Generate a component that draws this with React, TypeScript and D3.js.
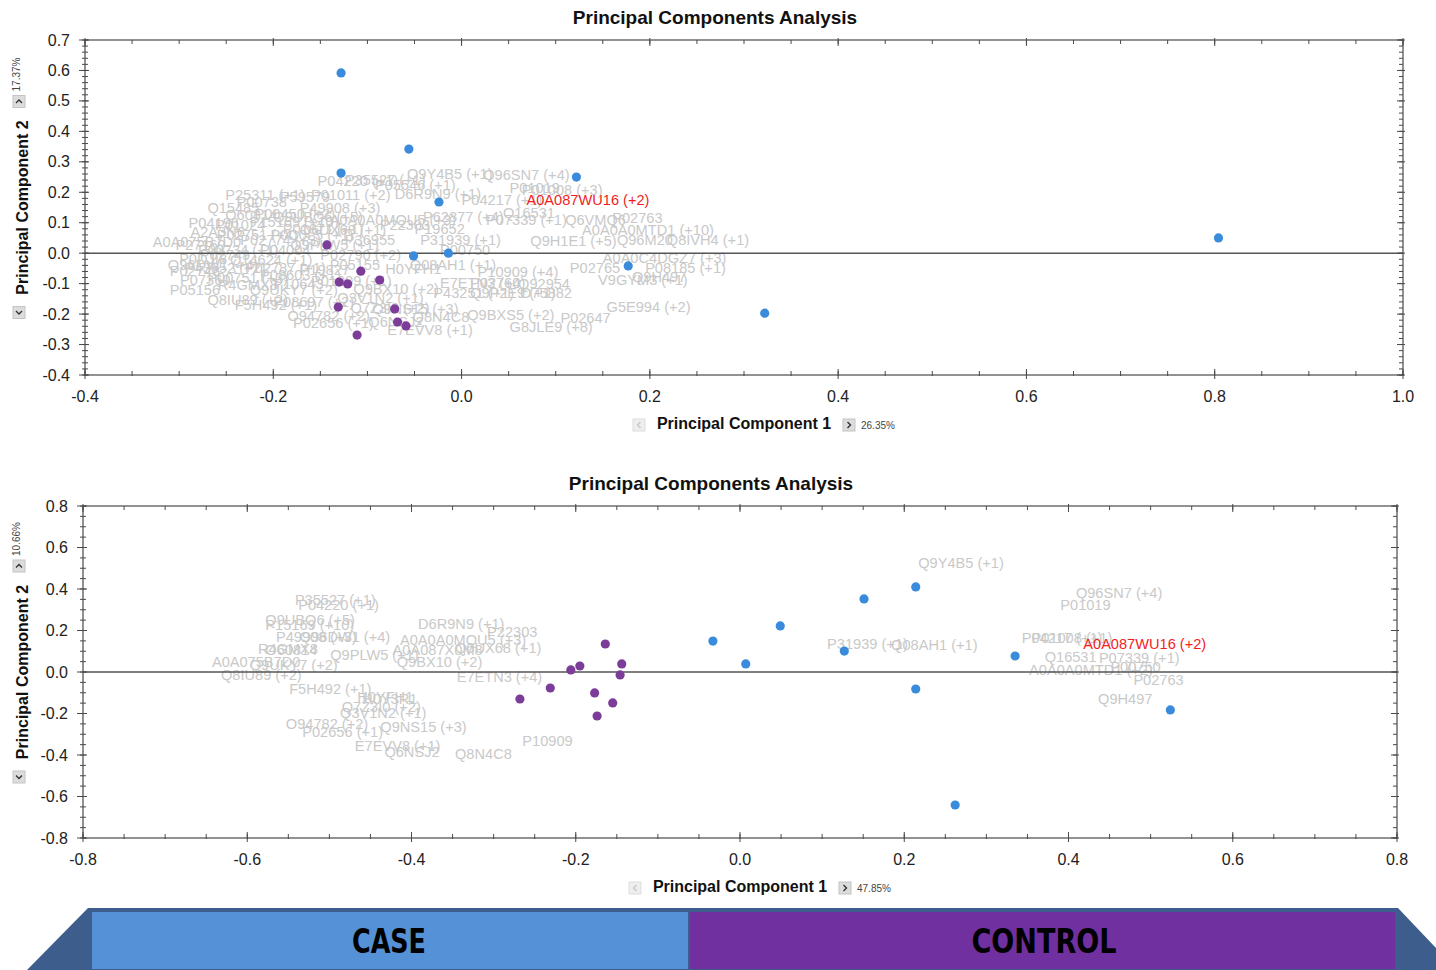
import React from 'react';
import * as d3 from 'd3';

type Pt = [number, number];
type Lbl = [string, number, number];

// ---------- top panel (PC1 26.35% / PC2 17.37%) ----------
const topCase: Pt[] = [
  [-0.128, 0.592], [-0.056, 0.342], [-0.128, 0.263], [0.122, 0.25], [-0.024, 0.168],
  [-0.051, -0.009], [-0.014, 0.0], [0.177, -0.042], [0.322, -0.197], [0.804, 0.05],
];
const topControl: Pt[] = [
  [-0.143, 0.027], [-0.107, -0.059], [-0.13, -0.095], [-0.121, -0.101], [-0.087, -0.088],
  [-0.131, -0.177], [-0.071, -0.183], [-0.068, -0.226], [-0.059, -0.239], [-0.111, -0.269],
];
const topLabels: Lbl[] = [
  ['Q9Y4B5 (+1)', -0.058, 0.26], ['Q96SN7 (+4)', 0.023, 0.257], ['P01019', 0.051, 0.214],
  ['P01008 (+3)', 0.064, 0.207], ['P04217 (+1)', 0.0, 0.175], ['P62877 (+4)', -0.041, 0.119],
  ['Q16531', 0.044, 0.132], ['P07339 (+1)', 0.026, 0.109], ['Q6VMQ6', 0.11, 0.109],
  ['P02763', 0.16, 0.115], ['A0A0A0MTD1 (+10)', 0.128, 0.076], ['Q8IVH4 (+1)', 0.218, 0.043],
  ['Q96M20', 0.165, 0.043], ['Q9H1E1 (+5)', 0.073, 0.04], ['A0A0C4DGZ7 (+3)', 0.15, -0.016],
  ['P02765', 0.115, -0.049], ['P08185 (+1)', 0.195, -0.049], ['V9GYM3 (+1)', 0.145, -0.088],
  ['Q9H497', 0.181, -0.078], ['P10909 (+4)', 0.017, -0.062], ['P02760', 0.009, -0.098],
  ['Q9P2E9 (+1)', 0.009, -0.131], ['E7ETN3 (+4)', -0.023, -0.098], ['O75882', 0.062, -0.131],
  ['G5E994 (+2)', 0.154, -0.177], ['P02647', 0.105, -0.213], ['G8JLE9 (+8)', 0.051, -0.243],
  ['Q9BXS5 (+2)', 0.006, -0.203], ['Q8N4C8', -0.052, -0.21], ['E7EVV8 (+1)', -0.079, -0.252],
  ['Q6NSJ2', -0.099, -0.226], ['Q9NS15 (+3)', -0.095, -0.183], ['Q7Z3I0 (+2)', -0.118, -0.18],
  ['Q3V1N2 (+1)', -0.132, -0.147], ['P02656 (+1)', -0.179, -0.229], ['O94782 (+2)', -0.185, -0.206],
  ['F5H492 (+1)', -0.241, -0.17], ['Q8IU89 (+2)', -0.27, -0.154], ['R4GMX8', -0.259, -0.105],
  ['Q9BX10 (+2)', -0.115, -0.118], ['H0YFH1', -0.081, -0.052], ['Q9UKY7 (+2)', -0.225, -0.121],
  ['Q96DW1 (+4)', -0.312, -0.039], ['P15169 (+10)', -0.225, 0.102], ['A0A075B7D0', -0.328, 0.037],
  ['A2A3N6', -0.288, 0.069], ['Q15485', -0.27, 0.148], ['P00738', -0.239, 0.168],
  ['P59579', -0.193, 0.184], ['P49908 (+3)', -0.172, 0.148], ['P04220 (+1)', -0.153, 0.237],
  ['P35527 (+1)', -0.124, 0.24], ['P05546 (+1)', -0.092, 0.224], ['D6R9N9 (+1)', -0.071, 0.194],
  ['A0A0A0MQU5 (+3)', -0.14, 0.109], ['Q6UX68 (+1)', -0.172, 0.076], ['P22303', -0.087, 0.092],
  ['Q9PLW5 (+1)', -0.182, 0.027], ['O60814', -0.251, 0.125], ['P31939 (+1)', -0.044, 0.043],
  ['Q08AH1 (+1)', -0.055, -0.039], ['P00750', -0.023, 0.01], ['P02749', -0.278, -0.006],
  ['P43652 (+2)', -0.294, -0.049], ['Q14624 (+1)', -0.246, -0.022], ['P04004', -0.214, 0.01],
  ['P0C0L5 (+1)', -0.203, 0.059], ['P01024', -0.262, 0.092], ['P02790 (+2)', -0.15, -0.006],
  ['P19827', -0.172, -0.055], ['P07360', -0.299, -0.088], ['P08603 (+1)', -0.214, -0.072],
  ['P05155', -0.14, -0.039], ['P02774 (+3)', -0.235, 0.043], ['P27169', -0.304, 0.027],
  ['P36955', -0.124, 0.043], ['P25311 (+1)', -0.251, 0.191], ['Q9UBQ6 (+5)', -0.2, 0.12],
  ['P01011 (+2)', -0.16, 0.19], ['P0DJI8', -0.3, -0.02], ['P00734 (+1)', -0.28, 0.01],
  ['P02748', -0.31, -0.06], ['P00751 (+3)', -0.27, -0.08], ['P10643', -0.2, -0.1],
  ['P02787 (+1)', -0.23, -0.05], ['P04196', -0.29, 0.1], ['P00450 (+2)', -0.22, 0.13],
  ['P01871 (+1)', -0.19, 0.08], ['P02751 (+4)', -0.26, 0.06], ['P01009 (+1)', -0.16, -0.09],
  ['P05156', -0.31, -0.12], ['P08697 (+2)', -0.2, -0.16], ['P19652', -0.05, 0.08],
  ['P43251 (+1)', -0.03, -0.13], ['Q92954', 0.06, -0.1],
];
const topRed: Lbl = ['A0A087WU16 (+2)', 0.069, 0.175];

// ---------- bottom panel (PC1 47.85% / PC2 10.66%) ----------
const botCase: Pt[] = [
  [0.214, 0.41], [0.151, 0.352], [0.049, 0.222], [-0.033, 0.149], [0.007, 0.039],
  [0.127, 0.101], [0.335, 0.077], [0.214, -0.082], [0.524, -0.183], [0.262, -0.641],
];
const botControl: Pt[] = [
  [-0.164, 0.135], [-0.195, 0.029], [-0.206, 0.01], [-0.144, 0.039], [-0.146, -0.014],
  [-0.231, -0.077], [-0.177, -0.101], [-0.268, -0.13], [-0.155, -0.149], [-0.174, -0.212],
];
const botLabels: Lbl[] = [
  ['Q9Y4B5 (+1)', 0.217, 0.525], ['Q96SN7 (+4)', 0.409, 0.381], ['P01019', 0.39, 0.323],
  ['P31939 (+1)', 0.106, 0.135], ['Q08AH1 (+1)', 0.184, 0.13], ['P04217 (+1)', 0.343, 0.164],
  ['P01008 (+1)', 0.355, 0.164], ['Q16531', 0.371, 0.072], ['P07339 (+1)', 0.437, 0.067],
  ['A0A0A0MTD1 (+2)', 0.352, 0.012], ['P00750', 0.451, 0.024], ['P02763', 0.479, -0.039],
  ['Q9H497', 0.436, -0.13], ['P22303', -0.308, 0.193], ['D6R9N9 (+1)', -0.392, 0.231],
  ['A0A0A0MQU5 (+3)', -0.414, 0.154], ['A0A087X0M8', -0.423, 0.106], ['Q6UX68 (+1)', -0.347, 0.116],
  ['Q9BX10 (+2)', -0.418, 0.048], ['E7ETN3 (+4)', -0.345, -0.024], ['P10909', -0.265, -0.332],
  ['Q8N4C8', -0.347, -0.395], ['Q6NSJ2', -0.433, -0.385], ['E7EVV8 (+1)', -0.469, -0.357],
  ['Q9NS15 (+3)', -0.438, -0.265], ['P02656 (+1)', -0.533, -0.289], ['O94782 (+2)', -0.553, -0.251],
  ['Q3V1N2 (+1)', -0.487, -0.198], ['Q7Z3I0 (+2)', -0.485, -0.169], ['H0YFH1', -0.466, -0.12],
  ['H0Y3R1', -0.46, -0.13], ['F5H492 (+1)', -0.549, -0.082], ['A0A075B7D0', -0.643, 0.048],
  ['Q8IU89 (+2)', -0.632, -0.014], ['Q9UKY7 (+2)', -0.597, 0.034], ['R4GMX8', -0.587, 0.111],
  ['O60814', -0.578, 0.106], ['Q9PLW5 (+1)', -0.499, 0.082], ['P49908 (+3)', -0.565, 0.169],
  ['Q96DW1 (+4)', -0.536, 0.169], ['P15169 (+10)', -0.578, 0.227], ['Q9UBQ6 (+5)', -0.578, 0.251],
  ['P35527 (+1)', -0.542, 0.347], ['P04220 (+1)', -0.538, 0.323],
];
const botRed: Lbl = ['A0A087WU16 (+2)', 0.418, 0.135];

const groups = ['CASE', 'CONTROL'];

const BLUE = '#3a8bdc';
const PURPLE = '#7c3d98';
const FONT = 'Arial, "Liberation Sans", sans-serif';

const fmt = (v: number) => d3.format('.1f')(v).replace('\u2212', '-');
const steps = (a: number, b: number, s: number) =>
  d3.range(Math.round((b - a) / s) + 1).map(i => +(a + i * s).toFixed(4));

const Btn = ({ x, y, dir }: { x: number; y: number; dir: 'up' | 'down' | 'left' | 'right' }) => {
  const paths = {
    up: 'M-3,1.5 L0,-1.5 L3,1.5',
    down: 'M-3,-1.5 L0,1.5 L3,-1.5',
    left: 'M1.5,-3 L-1.5,0 L1.5,3',
    right: 'M-1.5,-3 L1.5,0 L-1.5,3',
  };
  const faint = dir === 'left';
  return (
    <g transform={`translate(${x},${y})`}>
      <rect x={-6} y={-6} width={12} height={12} fill={faint ? '#eeeeee' : '#dcdcdc'} stroke={faint ? '#dddddd' : '#c4c4c4'} />
      <path d={paths[dir]} fill="none" stroke={faint ? '#c8c8c8' : '#333'} strokeWidth={1.4} />
    </g>
  );
};

type PanelProps = {
  box: { left: number; right: number; top: number; bottom: number };
  xDom: [number, number];
  yDom: [number, number];
  xStep: number; xMinor: number; yStep: number; yMinor: number;
  casePts: Pt[]; controlPts: Pt[]; labels: Lbl[]; red: Lbl;
  pc1: string; pc2: string;
};

const Panel = ({ box, xDom, yDom, xStep, xMinor, yStep, yMinor, casePts, controlPts, labels, red, pc1, pc2 }: PanelProps) => {
  const x = d3.scaleLinear().domain(xDom).range([box.left, box.right]);
  const y = d3.scaleLinear().domain(yDom).range([box.bottom, box.top]);
  const cx = (box.left + box.right) / 2;
  const cy = (box.top + box.bottom) / 2;
  const axisCol = '#4a4a4a';
  const xMaj = steps(xDom[0], xDom[1], xStep);
  const yMaj = steps(yDom[0], yDom[1], yStep);
  const xMin = steps(xDom[0], xDom[1], xMinor);
  const yMin = steps(yDom[0], yDom[1], yMinor);
  return (
    <g>
      <text x={cx - 29} y={box.top - 23} textAnchor="middle" dominantBaseline="central"
        fontFamily={FONT} fontWeight="bold" fontSize={19} fill="#111">Principal Components Analysis</text>

      {/* grey protein labels */}
      <g fontFamily={FONT} fontSize={14.6} fill="#c9c9c9">
        {labels.map(([t, lx, ly], i) => (
          <text key={i} x={x(lx)} y={y(ly)} dominantBaseline="central">{t}</text>
        ))}
      </g>

      {/* zero line */}
      <line x1={box.left} x2={box.right} y1={y(0)} y2={y(0)} stroke="#555" strokeWidth={1.4} />

      {/* frame */}
      <rect x={box.left} y={box.top} width={box.right - box.left} height={box.bottom - box.top}
        fill="none" stroke={axisCol} strokeWidth={1.2} />
      <g stroke={axisCol} strokeWidth={1}>
        {xMin.map((v, i) => (
          <g key={'xm' + i}>
            <line x1={x(v)} x2={x(v)} y1={box.bottom - 4} y2={box.bottom + 1} />
            <line x1={x(v)} x2={x(v)} y1={box.top} y2={box.top + 4} />
          </g>
        ))}
        {xMaj.map((v, i) => (
          <g key={'xM' + i}>
            <line x1={x(v)} x2={x(v)} y1={box.bottom - 6} y2={box.bottom + 4} />
            <line x1={x(v)} x2={x(v)} y1={box.top - 2} y2={box.top + 6} />
          </g>
        ))}
        {yMin.map((v, i) => (
          <g key={'ym' + i}>
            <line x1={box.left - 3} x2={box.left + 3} y1={y(v)} y2={y(v)} />
            <line x1={box.right - 4} x2={box.right} y1={y(v)} y2={y(v)} />
          </g>
        ))}
        {yMaj.map((v, i) => (
          <g key={'yM' + i}>
            <line x1={box.left - 6} x2={box.left + 4} y1={y(v)} y2={y(v)} />
            <line x1={box.right - 6} x2={box.right + 2} y1={y(v)} y2={y(v)} />
          </g>
        ))}
      </g>
      <g fontFamily={FONT} fontSize={16} fill="#222">
        {xMaj.map((v, i) => (
          <text key={'xl' + i} x={x(v)} y={box.bottom + 21} textAnchor="middle" dominantBaseline="central">{fmt(v)}</text>
        ))}
        {yMaj.map((v, i) => (
          <text key={'yl' + i} x={box.left - 15} y={y(v)} textAnchor="end" dominantBaseline="central">{fmt(v)}</text>
        ))}
      </g>

      {/* points */}
      {controlPts.map(([px, py], i) => (
        <circle key={'c' + i} cx={x(px)} cy={y(py)} r={4.6} fill={PURPLE} />
      ))}
      {casePts.map(([px, py], i) => (
        <circle key={'b' + i} cx={x(px)} cy={y(py)} r={4.6} fill={BLUE} />
      ))}

      <text x={x(red[1])} y={y(red[2])} dominantBaseline="central" fontFamily={FONT} fontSize={14.6} fill="#f21d1d">{red[0]}</text>

      {/* axis titles */}
      <text x={cx} y={box.bottom + 48} textAnchor="middle" dominantBaseline="central"
        fontFamily={FONT} fontWeight="bold" fontSize={16} fill="#111">Principal Component 1</text>
      <Btn x={cx - 105} y={box.bottom + 50} dir="left" />
      <Btn x={cx + 105} y={box.bottom + 50} dir="right" />
      <text x={cx + 117} y={box.bottom + 50} dominantBaseline="central" fontFamily={FONT} fontSize={10} fill="#444">{pc1}</text>

      <text transform={`translate(22,${cy}) rotate(-90)`} textAnchor="middle" dominantBaseline="central"
        fontFamily={FONT} fontWeight="bold" fontSize={16} fill="#111">Principal Component 2</text>
      <Btn x={19} y={cy - 106} dir="up" />
      <Btn x={19} y={cy + 105} dir="down" />
      <text transform={`translate(16,${cy - 133}) rotate(-90)`} textAnchor="middle" dominantBaseline="central"
        fontFamily={FONT} fontSize={10} fill="#444">{pc2}</text>
    </g>
  );
};

const Banner = () => {
  const bx = d3.scaleLinear().domain([0, 2]).range([92, 1395]);
  const mid = 689;
  return (
    <g>
      <path d="M88,908 L1398,908 L1436,948 L1436,970 L27,970 Z" fill="#3d5e8c" />
      <rect x={bx(0)} y={912} width={mid - bx(0)} height={57} fill="#5591d6" />
      <rect x={mid + 1} y={912} width={bx(2) - mid - 1} height={57} fill="#7030a0" />
      <line x1={mid} x2={mid} y1={912} y2={969} stroke="#3d5e8c" strokeWidth={2} />
      <text x={389} y={941} textAnchor="middle" dominantBaseline="central" fontFamily='"Liberation Sans Narrow", "DejaVu Sans Condensed", sans-serif'
        fontWeight="bold" fontSize={34} fill="#000" textLength={74} lengthAdjust="spacingAndGlyphs">{groups[0]}</text>
      <text x={1044} y={941} textAnchor="middle" dominantBaseline="central" fontFamily='"Liberation Sans Narrow", "DejaVu Sans Condensed", sans-serif'
        fontWeight="bold" fontSize={34} fill="#000" textLength={145} lengthAdjust="spacingAndGlyphs">{groups[1]}</text>
    </g>
  );
};

export default function App() {
  return (
    <svg width={1436} height={970} style={{ position: 'absolute', left: 0, top: 0, background: '#fff' }}>
      <rect width={1436} height={970} fill="#fff" />
      <Panel
        box={{ left: 85, right: 1403, top: 40, bottom: 375 }}
        xDom={[-0.4, 1.0]} yDom={[-0.4, 0.7]}
        xStep={0.2} xMinor={0.05} yStep={0.1} yMinor={0.02}
        casePts={topCase} controlPts={topControl} labels={topLabels} red={topRed}
        pc1="26.35%" pc2="17.37%"
      />
      <Panel
        box={{ left: 83, right: 1397, top: 506, bottom: 838 }}
        xDom={[-0.8, 0.8]} yDom={[-0.8, 0.8]}
        xStep={0.2} xMinor={0.05} yStep={0.2} yMinor={0.05}
        casePts={botCase} controlPts={botControl} labels={botLabels} red={botRed}
        pc1="47.85%" pc2="10.66%"
      />
      <Banner />
    </svg>
  );
}
